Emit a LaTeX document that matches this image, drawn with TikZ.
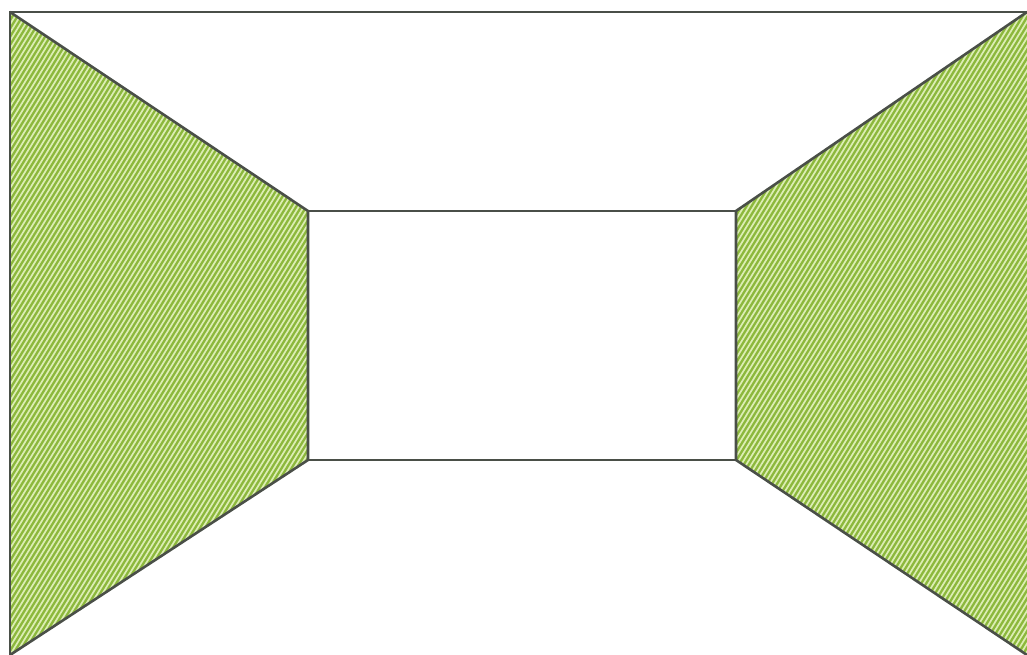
\documentclass[tikz,border=0pt]{standalone}
\usepackage{tikz}

\definecolor{wallgreen}{HTML}{8CB83C}
\definecolor{stripe}{HTML}{DCEDB4}
\definecolor{edge}{HTML}{4A4F48}

\begin{document}
\begin{tikzpicture}[x=1pt, y=-1pt, line join=miter,
  wall/.style={fill=wallgreen},
  frame/.style={draw=edge, line width=2.6pt}]
\useasboundingbox (0,0) rectangle (1027,655);
% corners of the room
\coordinate (otl) at (10,12);
\coordinate (otr) at (1027,12);
\coordinate (obl) at (10,655);
\coordinate (obr) at (1027,655);
\coordinate (itl) at (308,211);
\coordinate (itr) at (736,211);
\coordinate (ibl) at (308,460);
\coordinate (ibr) at (736,460);

% left wall
\begin{scope}
\clip (otl) -- (itl) -- (ibl) -- (obl) -- cycle;
\fill[wall] (0,0) rectangle (320,655);
\foreach \k in {0,5,...,1000}
  \draw[stripe, line width=1.7pt] (\k-400,655) -- (\k,0);
\end{scope}

% right wall
\begin{scope}
\clip (otr) -- (itr) -- (ibr) -- (obr) -- cycle;
\fill[wall] (720,0) rectangle (1027,655);
\foreach \k in {700,705,...,1460}
  \draw[stripe, line width=1.7pt] (\k-400,655) -- (\k,0);
\end{scope}

% outlines
\draw[frame] (otr) -- (otl) -- (obl);
\draw[frame] (otl) -- (itl) -- (ibl) -- (obl);
\draw[frame] (otr) -- (itr) -- (ibr) -- (obr);
\draw[frame] (itl) -- (itr);
\draw[frame] (ibl) -- (ibr);
\end{tikzpicture}
\end{document}
